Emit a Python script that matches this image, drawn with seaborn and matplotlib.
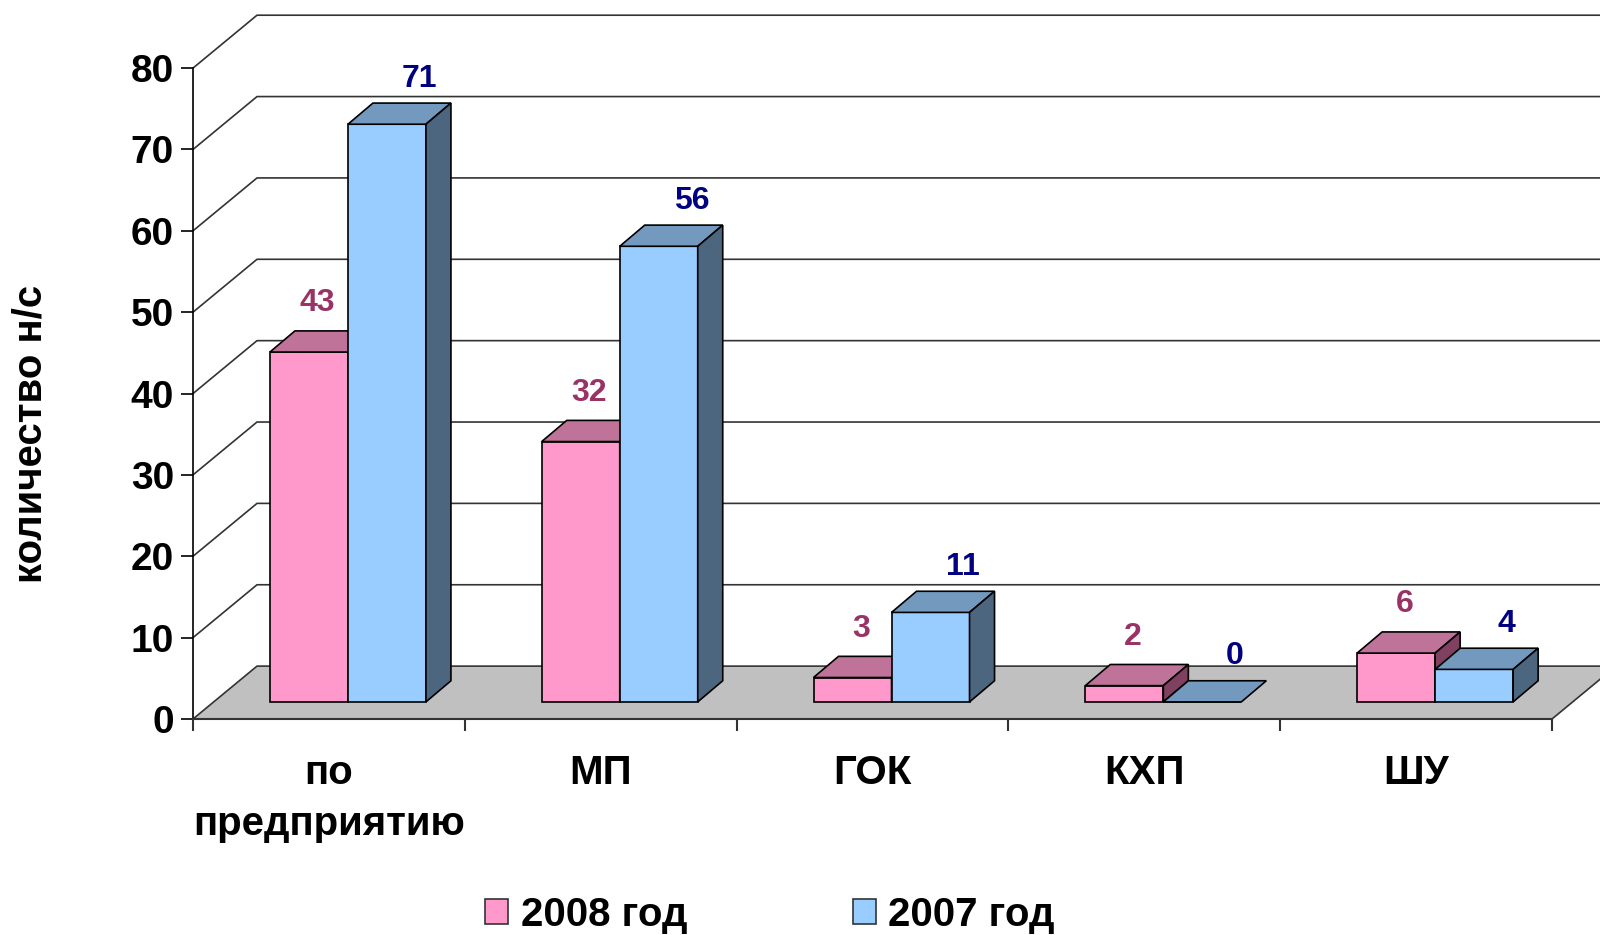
import numpy as np
import pandas as pd
import matplotlib
matplotlib.use("Agg")
import matplotlib.pyplot as plt
import matplotlib.patches as mpatches
import seaborn as sns

# data
categories = ["по\nпредприятию", "МП", "ГОК", "КХП", "ШУ"]
years = ["2008 год", "2007 год"]
v2008 = [43, 32, 3, 2, 6]
v2007 = [71, 56, 11, 0, 4]
yticks = [0, 10, 20, 30, 40, 50, 60, 70, 80]
ylab = "количество н/с"

# colours: front / top / side / label
pink = ["#FF99CC", "#C07399", "#804060", "#993366"]
blue = ["#99CCFF", "#7399BF", "#4D6680", "#000080"]

df = pd.DataFrame({
    "cat": categories * 2,
    "val": v2008 + v2007,
    "year": [years[0]] * 5 + [years[1]] * 5,
})

sns.set_style("white")
plt.rcParams['font.family'] = ['Liberation Sans', 'DejaVu Sans']
plt.rcParams['font.weight'] = 'bold'
plt.rcParams['text.color'] = 'black'
plt.rcParams['xtick.color'] = 'black'
plt.rcParams['ytick.color'] = 'black'
plt.rcParams['xtick.labelcolor'] = 'black'
plt.rcParams['ytick.labelcolor'] = 'black'

fig = plt.figure(figsize=(16, 9.35), dpi=100)
ax = fig.add_axes([193 / 1600, 216 / 935, 1407 / 1600, 716 / 935])

sns.barplot(data=df, x="cat", y="val", hue="year", palette=[pink[0], blue[0]],
            width=0.574, saturation=1, edgecolor="black", linewidth=1.2,
            legend=False, ax=ax)

xmax = -0.5 + 1407 / 271.8
ax.set_xlim(-0.5, xmax)
ax.set_ylim(0, 88)

# 3d offsets (data units)
wall_dx, wall_dy = 0.2355, 6.5   # back wall depth
base_dx, base_dy = 0.07, 2.1     # where the bar row sits
bar_dx, bar_dy = 0.092, 2.6      # bar depth

# floor
floor = mpatches.Polygon([(-0.5, 0), (4.5, 0), (4.5 + wall_dx, wall_dy), (-0.5 + wall_dx, wall_dy)],
                         closed=True, facecolor="#C0C0C0", edgecolor="none", zorder=0.5)
ax.add_patch(floor)
ax.plot([4.5, 4.5 + wall_dx], [0, wall_dy], color="#333333", lw=1.2, zorder=0.6, clip_on=False)

# walls gridlines
for v in yticks:
    ax.plot([-0.5, -0.5 + wall_dx, xmax], [v, v + wall_dy, v + wall_dy],
            color="#333333", lw=1.2, zorder=0.7, clip_on=False)

# bars: shift into depth and add top/side faces
for j, cont in enumerate(ax.containers):
    cols = [pink, blue][j]
    for p in cont:
        x0 = p.get_x() + base_dx
        h = p.get_height()
        w = p.get_width()
        b = base_dy
        p.set_x(x0)
        p.set_y(b)
        p.set_zorder(2 + j)
        top = [(x0, b + h), (x0 + w, b + h), (x0 + w + bar_dx, b + h + bar_dy), (x0 + bar_dx, b + h + bar_dy)]
        side = [(x0 + w, b), (x0 + w + bar_dx, b + bar_dy), (x0 + w + bar_dx, b + h + bar_dy), (x0 + w, b + h)]
        ax.add_patch(mpatches.Polygon(top, closed=True, facecolor=cols[1], edgecolor="black", lw=1.2, zorder=2 + j))
        if h > 0:
            ax.add_patch(mpatches.Polygon(side, closed=True, facecolor=cols[2], edgecolor="black", lw=1.2, zorder=2 + j))
        offx = 0.03 if j == 0 else 0.12
        offy = 3.4 if j == 0 else 3.0
        ax.text(x0 + w / 2 + offx, b + h + bar_dy + offy, f"{int(h)}", color=cols[3],
                ha="center", va="center", fontsize=23, fontweight="bold", zorder=5)

# axes
for s in ["top", "right"]:
    ax.spines[s].set_visible(False)
ax.spines["left"].set_bounds(0, 80)
ax.spines["bottom"].set_bounds(-0.5, 4.5)
ax.spines["left"].set_color("black")
ax.spines["bottom"].set_color("#333333")
ax.spines["left"].set_linewidth(1.2)
ax.spines["bottom"].set_linewidth(1.5)
ax.spines["left"].set_zorder(1)

ax.set_yticks(yticks)
ax.set_yticklabels([str(t) for t in yticks], fontsize=28, fontweight="bold")
ax.tick_params(axis="y", length=8.6, width=1.2, pad=5, direction="out", left=True, color="black")

ax.set_xticks(range(5))
ax.set_xticklabels(categories, fontsize=29, fontweight="bold", linespacing=1.45)
ax.tick_params(axis="x", which="major", length=0, pad=25)
ax.set_xticks(np.arange(-0.5, 5, 1), minor=True)
ax.tick_params(axis="x", which="minor", length=8.6, width=1.5, direction="out", bottom=True, color="#333333")
ax.set_xlabel("")
ax.set_ylabel("")

fig.text(31 / 1600, 1 - 434 / 935, ylab, rotation=90, ha="center", va="center",
         fontsize=29, fontweight="bold")

handles = [mpatches.Patch(facecolor=pink[0], edgecolor="#333333", lw=1.2, label=years[0]),
           mpatches.Patch(facecolor=blue[0], edgecolor="#333333", lw=1.2, label=years[1])]
fig.legend(handles=handles, loc="center", bbox_to_anchor=(770 / 1600, 1 - 915 / 935), ncol=2,
           frameon=False, handlelength=0.57, handleheight=0.57,
           handletextpad=0.32, columnspacing=4.1, borderpad=0, prop={"weight": "bold", "size": 29})

fig.savefig("out.png", dpi=100)
